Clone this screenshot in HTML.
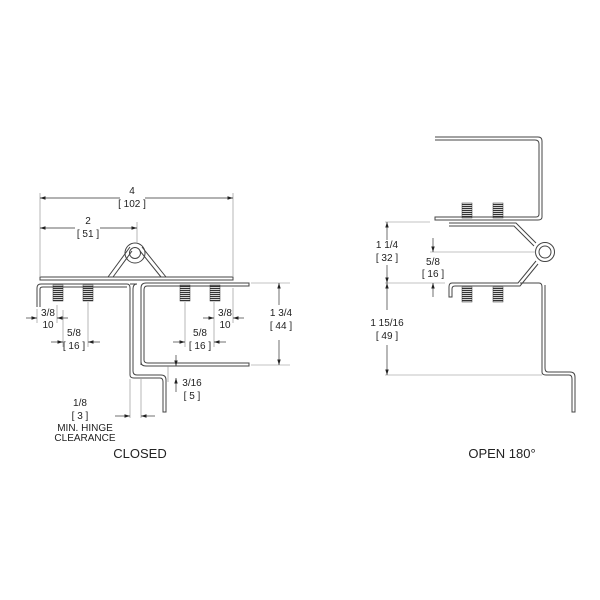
<!DOCTYPE html><html><head><style>body{margin:0;background:#fff}svg{display:block}text{font-family:"Liberation Sans",sans-serif;fill:#222}</style></head><body>
<svg width="600" height="600" viewBox="0 0 600 600" xmlns="http://www.w3.org/2000/svg">
<defs>
<pattern id="thr" width="4" height="2" patternUnits="userSpaceOnUse"><rect width="4" height="1.2" fill="#333"/></pattern>
<marker id="a" markerWidth="8" markerHeight="6" refX="8" refY="3" orient="auto"><path d="M0,0.5 L8,3 L0,5.5z" fill="#222"/></marker>
</defs>
<g fill="none" stroke="#444" stroke-width="1">
<!-- CLOSED -->
<path d="M40,277 L233,277 L233,280 L40,280 Z"/>
<path d="M37,307 L37,288 Q37,284 41,284 L127,284 Q130,284 130,288 L130,375 Q130,378 134,378 L160,378 Q163,378 163,382 L163,412 L166,412 L166,380 Q166,375 161,375 L137,375 Q133,375 133,371 L133,289 Q133,284 137,284 L130,284"/>
<path d="M40,307 L40,289 Q40,287 43,287 L127,287"/>
<path d="M141,365 L141,288 Q141,283 146,283 L249,283 L249,286 L147,286 Q144,286 144,290 L144,360 Q144,363 148,363 L249,363 L249,366 L146,366 Q141,366 141,362"/>
<path d="M108,277 L130,247 M113,277 L132,251 M166,277 L142,247 M161,277 L140,251"/>
<circle cx="135" cy="253" r="10"/><circle cx="135" cy="253" r="5.5"/>
<g stroke="#888" stroke-width="0.6">
<path d="M40,193 V276 M233,193 V276 M137,222 V243"/>
<path d="M251,283 H290 M251,365 H290"/>
<path d="M37,309 V323 M57,305 V323 M63,310 V347 M88,302 V347 M185,302 V347 M214,302 V347 M233,288 V323"/>
<path d="M130,379 V418 M141,379 V418 M168,366 V382"/>
</g>
</g>
<g stroke="#333" stroke-width="0.7" fill="none">
<path d="M120,198 H40" marker-end="url(#a)"/><path d="M145,198 H233" marker-end="url(#a)"/>
<path d="M75,228 H40" marker-end="url(#a)"/><path d="M100,228 H137" marker-end="url(#a)"/>
<path d="M279,305 V283" marker-end="url(#a)"/><path d="M279,340 V365" marker-end="url(#a)"/>
<path d="M26,318 H37" marker-end="url(#a)"/><path d="M68,318 H57" marker-end="url(#a)"/>
<path d="M51,342 H63" marker-end="url(#a)"/><path d="M100,342 H88" marker-end="url(#a)"/>
<path d="M173,342 H185" marker-end="url(#a)"/><path d="M226,342 H214" marker-end="url(#a)"/>
<path d="M203,318 H214" marker-end="url(#a)"/><path d="M244,318 H233" marker-end="url(#a)"/>
<path d="M176,355 V366" marker-end="url(#a)"/><path d="M176,392 V378" marker-end="url(#a)"/>
<path d="M115,416 H130" marker-end="url(#a)"/><path d="M155,416 H141" marker-end="url(#a)"/>
</g>
<g fill="url(#thr)" stroke="#333" stroke-width="0.5">
<rect x="53" y="285" width="10" height="16"/><rect x="83" y="285" width="10" height="16"/><rect x="180" y="285" width="10" height="16"/><rect x="210" y="285" width="10" height="16"/>
</g>
<g font-size="10" text-anchor="middle">
<text x="132" y="194">4</text><text x="132" y="207">[ 102 ]</text>
<text x="88" y="224">2</text><text x="88" y="237">[ 51 ]</text>
<text x="48" y="316">3/8</text><text x="48" y="328">10</text>
<text x="74" y="336">5/8</text><text x="74" y="349">[ 16 ]</text>
<text x="200" y="336">5/8</text><text x="200" y="349">[ 16 ]</text>
<text x="225" y="316">3/8</text><text x="225" y="328">10</text>
<text x="281" y="316">1 3/4</text><text x="281" y="329">[ 44 ]</text>
<text x="192" y="386">3/16</text><text x="192" y="399">[ 5 ]</text>
<text x="80" y="406">1/8</text><text x="80" y="419">[ 3 ]</text>
<text x="85" y="431">MIN. HINGE</text><text x="85" y="441">CLEARANCE</text>
</g>
<text x="140" y="458" font-size="13" text-anchor="middle">CLOSED</text>
<!-- OPEN -->
<g fill="none" stroke="#444" stroke-width="1">
<path d="M435,137 L538,137 Q542,137 542,141 L542,217 Q542,220 538,220 L435,220 L435,217 L536,217 Q539,217 539,214 L539,144 Q539,140 535,140 L435,140"/>
<path d="M449,223 L516,223 L536,243 M449,226 L514,226 L534,246"/>
<circle cx="545" cy="252" r="9.5"/><circle cx="545" cy="252" r="6"/>
<path d="M536,261 L518,283 L452,283 Q449,283 449,287 L449,297 L452,297 L452,289 Q452,286 455,286 L520,286 L538,264"/>
<path d="M520,283 L539,283 Q542,283 542,287 L542,372 Q542,375 546,375 L569,375 Q572,375 572,379 L572,412 L575,412 L575,377 Q575,372 570,372 L548,372 Q545,372 545,368 L545,285"/>
<g stroke="#888" stroke-width="0.6"><path d="M385,222 H430 M430,252 H536 M385,283 H445 M385,375 H542"/></g>
</g>
<g stroke="#333" stroke-width="0.7" fill="none">
<path d="M387,240 V222" marker-end="url(#a)"/><path d="M387,265 V283" marker-end="url(#a)"/>
<path d="M387,310 V283" marker-end="url(#a)"/><path d="M387,345 V375" marker-end="url(#a)"/>
<path d="M433,238 V252" marker-end="url(#a)"/><path d="M433,297 V283" marker-end="url(#a)"/>
</g>
<g fill="url(#thr)" stroke="#333" stroke-width="0.5">
<rect x="462" y="203" width="10" height="15"/><rect x="493" y="203" width="10" height="15"/><rect x="462" y="287" width="10" height="15"/><rect x="493" y="287" width="10" height="15"/>
</g>
<g font-size="10" text-anchor="middle">
<text x="387" y="248">1 1/4</text><text x="387" y="261">[ 32 ]</text>
<text x="433" y="265">5/8</text><text x="433" y="277">[ 16 ]</text>
<text x="387" y="326">1 15/16</text><text x="387" y="339">[ 49 ]</text>
</g>
<text x="502" y="458" font-size="13" text-anchor="middle">OPEN 180°</text>
</svg></body></html>
